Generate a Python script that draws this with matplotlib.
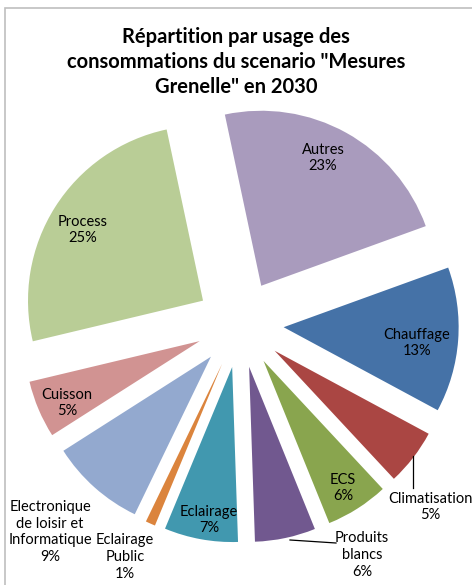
import matplotlib.pyplot as plt
from matplotlib.patches import Rectangle

plt.rcParams['font.family'] = ['Lato', 'DejaVu Sans']

# data, clockwise from the top (shares)
labels = ["Autres", "Chauffage", "Climatisation", "ECS", "Produits\nblancs",
          "Eclairage", "Eclairage\nPublic", "Electronique\nde loisir et\nInformatique",
          "Cuisson", "Process"]
shares = [22.8, 13.4, 5.2, 5.8, 5.6, 6.8, 0.9, 8.8, 5.3, 25.4]
colors = ["#A99BBD", "#4572A7", "#AA4643", "#89A54E", "#71588F",
          "#4198AF", "#DB843D", "#93A9CF", "#D19392", "#B9CD96"]

title = u'Répartition par usage des\nconsommations du scenario "Mesures\nGrenelle" en 2030'

W, H = 472, 585
cx, cy, R = 240, 324, 175   # pie centre / radius in pixels

fig = plt.figure(figsize=(W / 100, H / 100), dpi=100)
ax = fig.add_axes([0, 0, 1, 1])

wedges, _ = ax.pie(shares, colors=colors, startangle=102, counterclock=False,
                   explode=[0.25] * len(shares), radius=1.0,
                   wedgeprops=dict(linewidth=0))

ax.set_xlim(-cx / R, (W - cx) / R)
ax.set_ylim((cy - H) / R, cy / R)
ax.set_aspect('auto')
ax.axis('off')

def px(x, y):
    return (x - cx) / R, (cy - y) / R

total = sum(shares)
# label positions in pixels (inside labels first, outside ones with leaders)
label_pos = [(323, 158), (417, 343), (430, 507), (343, 488), (362, 555),
             (209, 520), (125, 557), (50, 532), (67, 403), (83, 230)]
for lab, v, (lx, ly) in zip(labels, shares, label_pos):
    x, y = px(lx, ly)
    ax.text(x, y, "%s\n%d%%" % (lab, round(v / total * 100)), ha='center', va='center',
            fontsize=10.5, color='black', linespacing=1.25)

# leader lines
for (x0, y0), (x1, y1) in [((413, 456), (413, 488)), ((290, 540), (336, 543))]:
    a, b = px(x0, y0)
    c, d = px(x1, y1)
    ax.plot([a, c], [b, d], color='black', lw=0.9)

fig.text(0.5, 1 - 62 / H, title, ha='center', va='center', fontsize=14.5,
         fontweight='bold', linespacing=1.3)

fig.patches.append(Rectangle((5 / W, -0.1), 1.2, 1 - 8 / H + 0.1, transform=fig.transFigure,
                             fill=False, edgecolor='#BFBFBF', lw=1.2))

fig.savefig("out.png", dpi=100, facecolor='white')
